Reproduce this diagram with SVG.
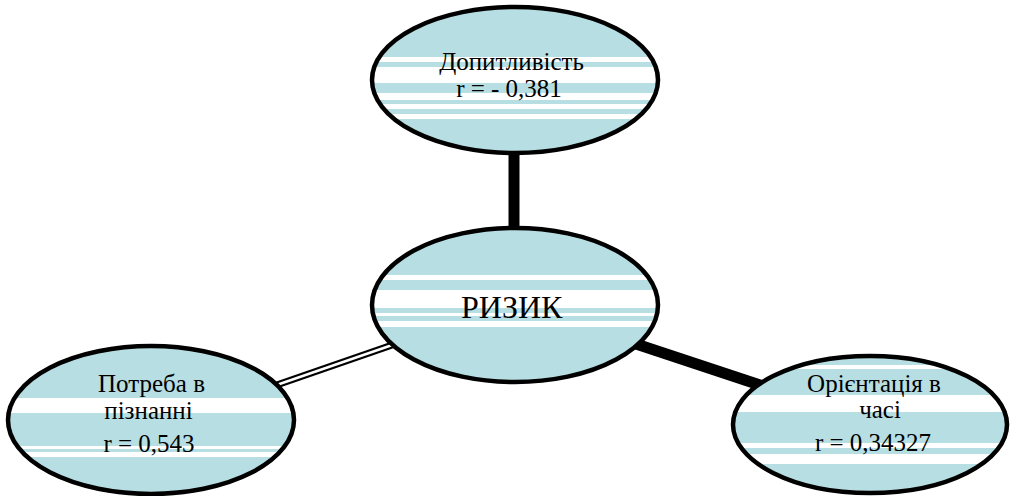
<svg xmlns="http://www.w3.org/2000/svg" width="1011" height="496" viewBox="0 0 1011 496">
<style>
.bg{fill:#B7DEE2}
.st{fill:#FFFFFF}
.ol{fill:none;stroke:#000;stroke-width:4.5}
.t{font-family:'Liberation Serif',serif;font-size:25px;fill:#000;text-anchor:middle}
.big{font-size:32px}
</style>
<defs>
<clipPath id="cTop"><ellipse cx="515" cy="80" rx="143" ry="73"/></clipPath>
<clipPath id="cMid"><ellipse cx="515" cy="305" rx="143" ry="77"/></clipPath>
<clipPath id="cLeft"><ellipse cx="151" cy="420" rx="143" ry="74"/></clipPath>
<clipPath id="cRight"><ellipse cx="870" cy="424.5" rx="137" ry="68.5"/></clipPath>
</defs>
<rect width="1011" height="496" fill="#fff"/>
<g id="connectors">
<line x1="514" y1="150" x2="514" y2="232" stroke="#000" stroke-width="11"/>
<line x1="615" y1="337" x2="772" y2="389" stroke="#000" stroke-width="11"/>
<line x1="268" y1="388" x2="398" y2="343" stroke="#000" stroke-width="7"/>
<line x1="268" y1="388" x2="398" y2="343" stroke="#fff" stroke-width="2.5"/>
</g>
<g id="node-top">
<ellipse class="bg" cx="515" cy="80" rx="143" ry="73"/>
<g clip-path="url(#cTop)">
<rect class="st" x="370" y="57" width="290" height="5"/>
<rect class="st" x="370" y="67" width="290" height="16"/>
<rect class="st" x="370" y="93" width="290" height="7"/>
<rect class="st" x="370" y="104" width="290" height="5"/>
<rect class="st" x="370" y="114" width="290" height="5"/>
</g>
<ellipse class="ol" cx="515" cy="80" rx="143" ry="73"/>
<text class="t" x="511.5" y="70">Допитливість</text>
<text class="t" x="509" y="97">r = - 0,381</text>
</g>
<g id="node-center">
<ellipse class="bg" cx="515" cy="305" rx="143" ry="77"/>
<g clip-path="url(#cMid)">
<rect class="st" x="370" y="275" width="290" height="5"/>
<rect class="st" x="370" y="290" width="290" height="18"/>
<rect class="st" x="370" y="313" width="290" height="3"/>
<rect class="st" x="370" y="321" width="290" height="6"/>
</g>
<ellipse class="ol" cx="515" cy="305" rx="143" ry="77"/>
<text class="t big" x="511.7" y="318">РИЗИК</text>
</g>
<g id="node-left">
<ellipse class="bg" cx="151" cy="420" rx="143" ry="74"/>
<g clip-path="url(#cLeft)">
<rect class="st" x="5" y="398" width="295" height="15"/>
<rect class="st" x="5" y="446" width="295" height="3"/>
<rect class="st" x="5" y="452" width="295" height="5"/>
</g>
<ellipse class="ol" cx="151" cy="420" rx="143" ry="74"/>
<text class="t" x="151.5" y="392">Потреба в</text>
<text class="t" x="148.5" y="419">пізнанні</text>
<text class="t" x="149" y="452">r = 0,543</text>
</g>
<g id="node-right">
<ellipse class="bg" cx="870" cy="424.5" rx="137" ry="68.5"/>
<g clip-path="url(#cRight)">
<rect class="st" x="730" y="365" width="280" height="4"/>
<rect class="st" x="730" y="395" width="280" height="17"/>
<rect class="st" x="730" y="443" width="280" height="5"/>
<rect class="st" x="730" y="454" width="280" height="10"/>
</g>
<ellipse class="ol" cx="870" cy="424.5" rx="137" ry="68.5"/>
<text class="t" x="874" y="392">Орієнтація в</text>
<text class="t" x="880" y="418">часі</text>
<text class="t" x="873" y="451">r = 0,34327</text>
</g>
</svg>
